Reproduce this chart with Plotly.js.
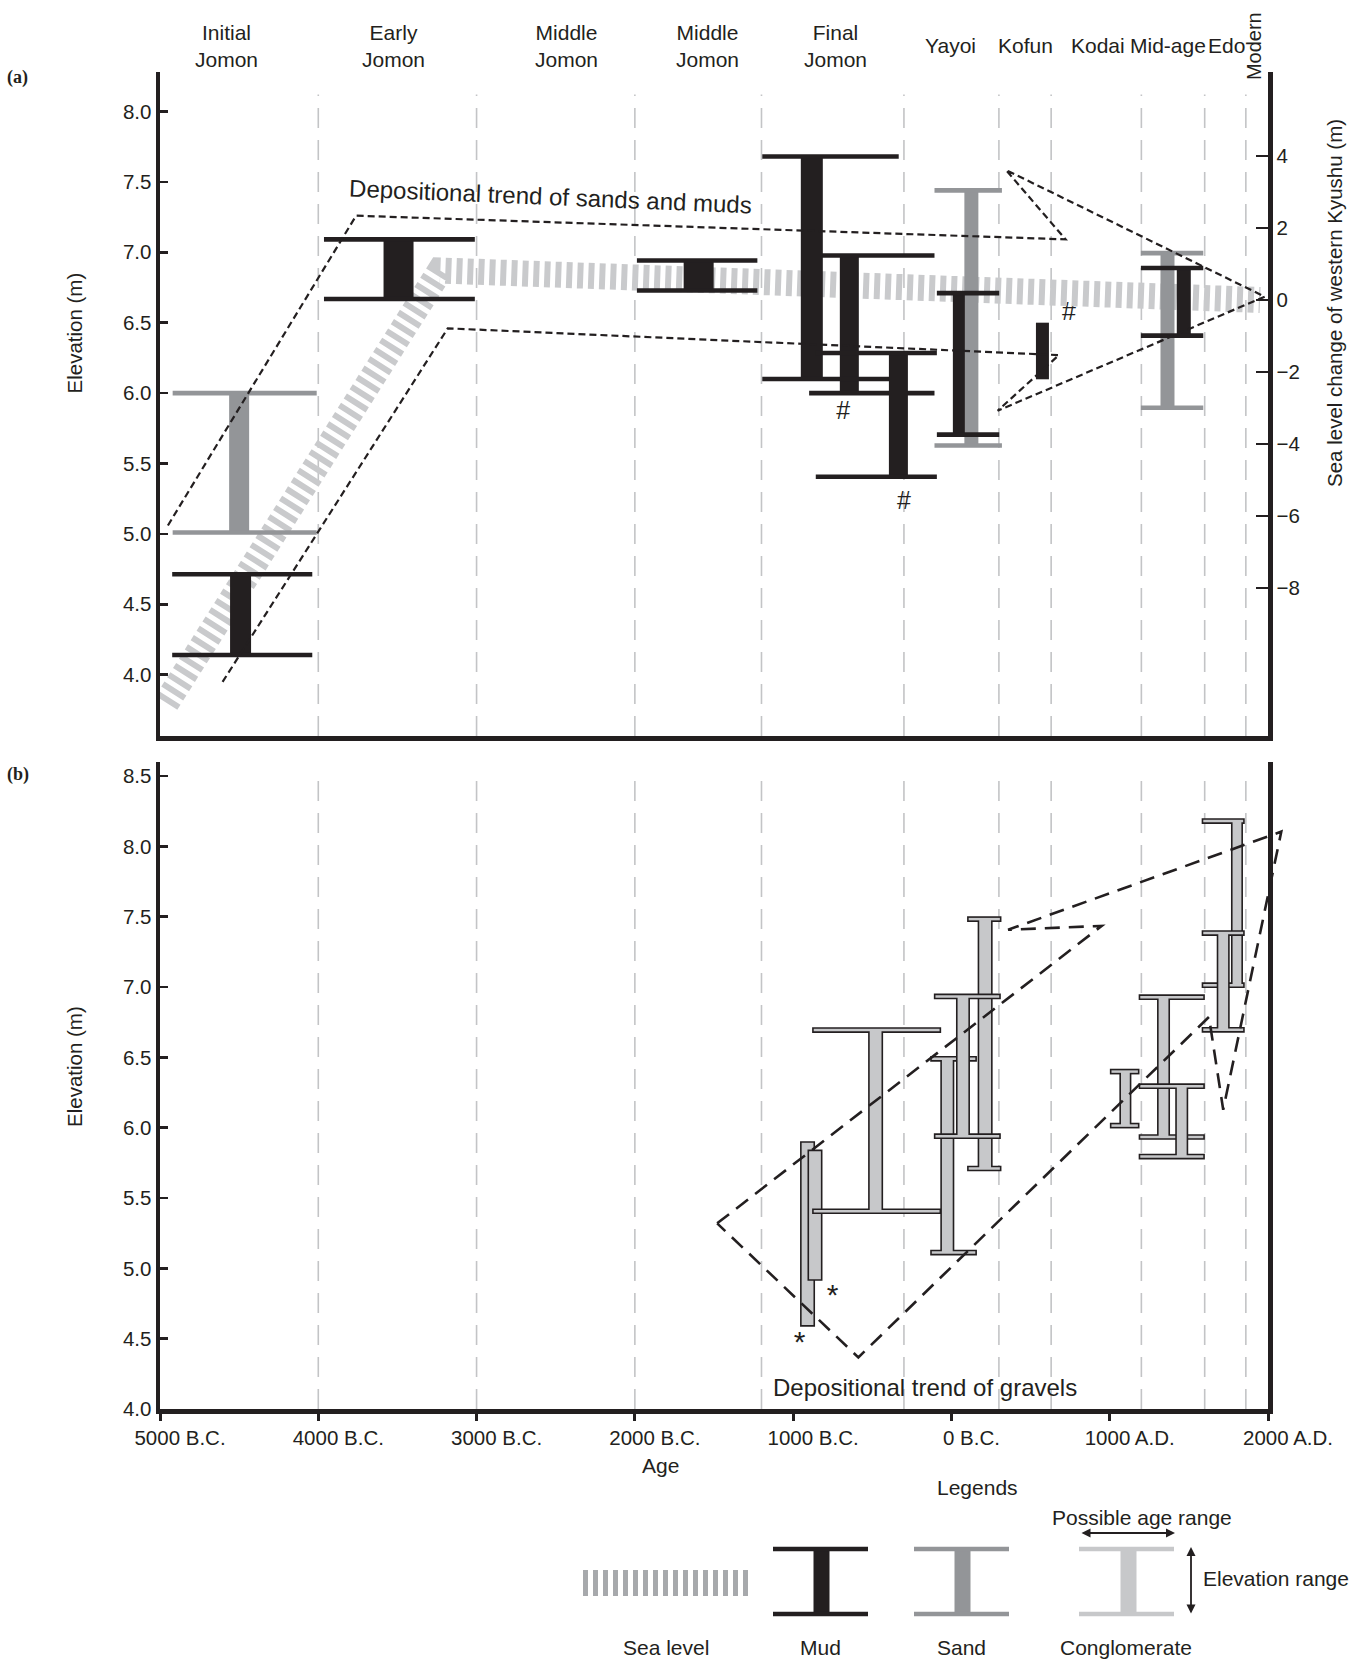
<!DOCTYPE html>
<html>
<head>
<meta charset="utf-8">
<script src="https://cdn.plot.ly/plotly-3.0.1.min.js"></script>
<style>html,body{margin:0;padding:0;background:#fff;}#chart{width:1360px;height:1660px;}</style>
</head>
<body>
<div id="chart"></div>
<script>
// ---------------- DATA ----------------
// X axis (age, years; negative = B.C.)
const xTickVals = [-5000, -4000, -3000, -2000, -1000, 0, 1000, 2000];
const xTickText = ['5000 B.C.', '4000 B.C.', '3000 B.C.', '2000 B.C.', '1000 B.C.', '0 B.C.', '1000 A.D.', '2000 A.D.'];
// Period boundaries (dashed vertical lines)
const periodBounds = [-4000, -3000, -2000, -1200, -300, 300, 630, 1200, 1600, 1860];
// Period names and their label centres (years)
const periodNames = ['Initial<br>Jomon', 'Early<br>Jomon', 'Middle<br>Jomon', 'Middle<br>Jomon', 'Final<br>Jomon', 'Yayoi', 'Kofun', 'Kodai', 'Mid-age', 'Edo', 'Modern'];
const periodCenters = [-4579, -3522, -2434, -1543, -730, -6, 465, 925, 1371, 1736, 1912];

// Panel (a): sands and muds (elevation, m)
const aKind = ['sand', 'sand', 'sand', 'mud', 'mud', 'mud', 'mud', 'mud', 'mud', 'mud', 'mud', 'mud'];
const aAgeCenter = [-4500, 126, 1365, -4491, -3493, -1597, -645, -882, -335, 47, 575, 1468];
const aAgeMin = [-4920, -107, 1197, -4923, -3964, -1987, -899, -1195, -857, -92, null, 1197];
const aAgeMax = [-4010, 319, 1591, -4038, -3011, -1226, -107, -333, -92, 302, null, 1591];
const aElevMin = [5.01, 5.628, 5.896, 4.14, 6.668, 6.729, 6.00, 6.10, 5.406, 5.705, 6.098, 6.408];
const aElevMax = [6.00, 7.44, 6.994, 4.713, 7.092, 6.942, 6.977, 7.68, 6.285, 6.71, 6.50, 6.888];

// Panel (a): sea level change of western Kyushu (m, right axis)
const seaYear = [-4960, -3230, 1950];
const seaLevel = [-11.19, 0.82, 0.0];

// Panel (a): depositional trend of sands and muds (outline)
const trendAYear = [-4950, -3761, 721, 344, 1979, 292, 679, -3182, -4608];
const trendAElev = [5.06, 7.26, 7.092, 7.585, 6.685, 5.875, 6.27, 6.46, 3.943];

// Panel (b): conglomerates (elevation, m)
const bAgeCenter = [-909, -862, -479, -26, 213, 73, 1099, 1340, 1455, 1804, 1717];
const bAgeMin = [null, null, -870, -124, 109, -101, 1011, 1193, 1193, 1591, 1591];
const bAgeMax = [null, null, -75, 151, 306, 302, 1178, 1591, 1591, 1843, 1843];
const bElevMin = [4.597, 4.923, 5.406, 5.112, 5.71, 5.94, 6.015, 5.934, 5.795, 7.013, 6.696];
const bElevMax = [5.893, 5.833, 6.694, 6.49, 7.483, 6.933, 6.399, 6.928, 6.295, 8.18, 7.384];

// Panel (b): depositional trend of gravels (outline)
const trendBYear = [-1480, 949, 358, 2084, 1717, 1627, -588, -1480];
const trendBElev = [5.32, 7.435, 7.407, 8.105, 6.128, 6.787, 4.367, 5.32];

// Marks: '#' in panel (a), '*' in panel (b)
const hashYear = [-683, -300, 742];
const hashElev = [5.857, 5.22, 6.566];
const starYear = [-750, -960];
const starElev = [4.79, 4.46];

// ---------------- STYLE ----------------
const FONT = '"Liberation Sans", Arial, Helvetica, sans-serif';
const SERIF = '"Liberation Serif", "DejaVu Serif", serif';
const INK = '#231f20';
const MUD = '#231f20';
const SAND = '#939598';
const CONG = '#c7c8ca';
const SEA = '#c9cacc';
const GRID = '#c3c4c6';
const aBarPx = [20, 14, 14, 21, 30, 30, 19, 22, 19, 12, 13, 14];
const bBarPx = [15, 15, 15, 14, 15, 14, 12, 13, 13, 12, 13];
const CAP_A = 4.6;
const CAP_B = 2.5;
const OW = 1.6;

// page geometry (px)
const ML = 160, MR = 70, MT = 72, MB = 251, W = 1360, H = 1660;
const PW = W - ML - MR, PH = H - MT - MB;      // paper area
const AXW = 1108;                              // width of the -5000..2000 axes
const XDOM = AXW / PW;
const px2x = x => (x - ML) / PW;
const px2y = y => (H - MB - y) / PH;

const shapes = [];

// grid (period boundaries)
periodBounds.forEach(v => {
  shapes.push({type: 'line', layer: 'below', xref: 'x2', yref: 'y2 domain', x0: v, x1: v, y0: 0, y1: 0.966,
    line: {color: GRID, width: 1.6, dash: '20px,12px'}});
  shapes.push({type: 'line', layer: 'below', xref: 'x', yref: 'y domain', x0: v, x1: v, y0: 0, y1: 0.985,
    line: {color: GRID, width: 1.6, dash: '20px,12px'}});
});

function solidI(xr, yr, c, a0, a1, e0, e1, w, color) {
  shapes.push({type: 'rect', xref: xr, yref: yr, xsizemode: 'pixel', xanchor: c, x0: -w / 2, x1: w / 2,
    y0: e0, y1: e1, fillcolor: color, line: {width: 0}});
  if (a0 !== null) {
    [e0, e1].forEach(e => shapes.push({type: 'rect', xref: xr, yref: yr, ysizemode: 'pixel', yanchor: e,
      y0: -CAP_A / 2, y1: CAP_A / 2, x0: a0, x1: a1, fillcolor: color, line: {width: 0}}));
  }
}

function outlinedI(xr, yr, c, a0, a1, e0, e1, w) {
  const parts = [];
  const bw = w - 2 * OW;
  parts.push({type: 'rect', xref: xr, yref: yr, xsizemode: 'pixel', xanchor: c, x0: -bw / 2, x1: bw / 2, y0: e0, y1: e1});
  if (a0 !== null) {
    [e0, e1].forEach(e => parts.push({type: 'rect', xref: xr, yref: yr, ysizemode: 'pixel', yanchor: e,
      y0: -CAP_B / 2, y1: CAP_B / 2, x0: a0, x1: a1}));
  }
  parts.forEach(p => shapes.push(Object.assign({}, p, {fillcolor: INK, line: {color: INK, width: 2 * OW}})));
  parts.forEach(p => shapes.push(Object.assign({}, p, {fillcolor: CONG, line: {width: 0}})));
}

aKind.forEach((k, i) => {
  solidI('x2', 'y2', aAgeCenter[i], aAgeMin[i], aAgeMax[i], aElevMin[i], aElevMax[i], aBarPx[i], k === 'sand' ? SAND : MUD);
});

bAgeCenter.forEach((c, i) => {
  outlinedI('x', 'y', c, bAgeMin[i], bAgeMax[i], bElevMin[i], bElevMax[i], bBarPx[i]);
});

function pathOf(xs, ys) {
  return xs.map((x, i) => (i === 0 ? 'M' : 'L') + x + ',' + ys[i]).join(' ');
}
shapes.push({type: 'path', xref: 'x2', yref: 'y2', path: pathOf(trendAYear, trendAElev),
  line: {color: INK, width: 2.2, dash: '7px,4px'}, fillcolor: 'rgba(0,0,0,0)'});
// drawn on a wider twin of the age axis so the apex may pass the right frame, as in the original
shapes.push({type: 'path', xref: 'x4', yref: 'y', path: pathOf(trendBYear, trendBElev),
  line: {color: INK, width: 2.6, dash: '15px,9px'}, fillcolor: 'rgba(0,0,0,0)'});

// ---------- legend (paper coordinates below the plot) ----------
function legendI(xc, xl, xr, color) {
  const yt = px2y(1549), yb = px2y(1614), bw = 16 / PW, ch = 4.5 / PH;
  const xcp = px2x(xc);
  shapes.push({type: 'rect', xref: 'paper', yref: 'paper', x0: xcp - bw / 2, x1: xcp + bw / 2, y0: yb, y1: yt, fillcolor: color, line: {width: 0}});
  shapes.push({type: 'rect', xref: 'paper', yref: 'paper', x0: px2x(xl), x1: px2x(xr), y0: yt - ch / 2, y1: yt + ch / 2, fillcolor: color, line: {width: 0}});
  shapes.push({type: 'rect', xref: 'paper', yref: 'paper', x0: px2x(xl), x1: px2x(xr), y0: yb - ch / 2, y1: yb + ch / 2, fillcolor: color, line: {width: 0}});
}
shapes.push({type: 'line', xref: 'paper', yref: 'paper', x0: px2x(583), x1: px2x(753), y0: px2y(1583), y1: px2y(1583),
  line: {color: '#a7a9ac', width: 26, dash: '5px,5px'}});
legendI(821.5, 773, 868, MUD);
legendI(962.5, 914, 1009, SAND);
legendI(1128.5, 1079, 1174, CONG);

// ---------------- TRACES ----------------
const traces = [
  {type: 'scatter', mode: 'lines', x: seaYear, y: seaLevel, xaxis: 'x2', yaxis: 'y3',
   line: {color: SEA, width: 26, dash: '6px,5px'}, hoverinfo: 'skip', name: 'Sea level'},
  {type: 'scatter', mode: 'text', x: hashYear, y: hashElev, xaxis: 'x2', yaxis: 'y2', text: hashYear.map(() => '#'),
   textfont: {family: FONT, size: 25, color: INK}, cliponaxis: false, hoverinfo: 'skip'},
  {type: 'scatter', mode: 'text', x: starYear, y: starElev, xaxis: 'x', yaxis: 'y', text: starYear.map(() => '*'),
   textfont: {family: FONT, size: 30, color: INK}, cliponaxis: false, hoverinfo: 'skip'},
  {type: 'scatter', mode: 'lines', x: [], y: [], xaxis: 'x4', yaxis: 'y', hoverinfo: 'skip'}
];

// ---------------- ANNOTATIONS ----------------
const ann = [];
const base = {showarrow: false, xanchor: 'center', yanchor: 'middle'};
periodNames.forEach((n, i) => {
  ann.push(Object.assign({}, base, {xref: 'x2', yref: 'paper', x: periodCenters[i], y: px2y(46), text: n,
    textangle: n === 'Modern' ? -90 : 0, font: {family: FONT, size: n === 'Modern' ? 20 : 21, color: INK}}));
});
const txt = (t, x, y, extra) => Object.assign({}, base, {xref: 'paper', yref: 'paper', x: px2x(x), y: px2y(y), text: t,
  font: {family: FONT, size: 21, color: INK}}, extra || {});
ann.push(txt('<b>(a)</b>', 5, 78, {xanchor: 'left', font: {family: SERIF, size: 18, color: INK}}));
ann.push(txt('<b>(b)</b>', 5, 774, {xanchor: 'left', font: {family: SERIF, size: 18, color: INK}}));
ann.push(txt('Elevation (m)', 74, 333.5, {textangle: -90, font: {family: FONT, size: 20.5, color: INK}}));
ann.push(txt('Elevation (m)', 74, 1067, {textangle: -90, font: {family: FONT, size: 20.5, color: INK}}));
ann.push(txt('Sea level change of western Kyushu (m)', 1334, 303, {textangle: -90, font: {family: FONT, size: 20.5, color: INK}}));
ann.push(txt('Age', 660, 1465));
ann.push(Object.assign({}, base, {xref: 'x2', yref: 'y2', x: -2531, y: 7.396, text: 'Depositional trend of sands and muds',
  textangle: 2.4, font: {family: FONT, size: 24, color: INK}}));
ann.push(Object.assign({}, base, {xref: 'x', yref: 'y', x: -170, y: 4.15, text: 'Depositional trend of gravels',
  font: {family: FONT, size: 24, color: INK}}));
// legend texts
ann.push(txt('Legends', 977, 1487));
ann.push(txt('Possible age range', 1142, 1517));
ann.push(txt('Elevation range', 1201, 1578, {xanchor: 'left'}));
ann.push(txt('Sea level', 666, 1647));
ann.push(txt('Mud', 820, 1647));
ann.push(txt('Sand', 961, 1647));
ann.push(txt('Conglomerate', 1126, 1647));
// arrows
ann.push({xref: 'paper', yref: 'paper', x: px2x(1175), y: px2y(1533), ax: -95, ay: 0, text: '',
  showarrow: true, arrowside: 'end+start', arrowhead: 2, arrowsize: 1, arrowwidth: 1.8, arrowcolor: INK});
ann.push({xref: 'paper', yref: 'paper', x: px2x(1191), y: px2y(1547), ax: 0, ay: 68, text: '',
  showarrow: true, arrowside: 'end+start', arrowhead: 2, arrowsize: 1, arrowwidth: 1.8, arrowcolor: INK});

// ---------------- LAYOUT ----------------
const axBase = {showgrid: false, zeroline: false, showline: true, linewidth: 4.5, linecolor: INK,
  tickcolor: INK, tickfont: {family: FONT, size: 20.5, color: INK}};
const bDom = [0, px2y(762)];
const aDom = [px2y(736), 1];
const layout = {
  width: W, height: H,
  margin: {l: ML, r: MR, t: MT, b: MB},
  paper_bgcolor: '#ffffff', plot_bgcolor: 'rgba(0,0,0,0)',
  showlegend: false,
  font: {family: FONT, size: 21, color: INK},
  xaxis: Object.assign({}, axBase, {domain: [0, XDOM], anchor: 'y', range: [-5000, 2000], ticks: 'outside', ticklen: 7, tickwidth: 3,
    tickvals: xTickVals, ticktext: xTickText, ticklabelshift: 20}),
  xaxis3: {overlaying: 'x', anchor: 'y', range: [-5000, 2000], showgrid: false, zeroline: false, showline: false,
    ticks: 'inside', ticklen: 7, tickwidth: 3, tickcolor: INK, tickvals: xTickVals, showticklabels: false},
  xaxis4: {domain: [0, 1], anchor: 'y', range: [-5000, -5000 + 7000 / XDOM], visible: false, fixedrange: true},
  xaxis2: Object.assign({}, axBase, {domain: [0, XDOM], anchor: 'y2', range: [-5000, 2000], ticks: '', showticklabels: false}),
  yaxis: Object.assign({}, axBase, {domain: bDom, anchor: 'x', range: [4.0, 8.6], mirror: true, ticks: 'inside',
    ticklen: 8, tickwidth: 2.5, tick0: 4, dtick: 0.5, tickformat: '.1f'}),
  yaxis2: Object.assign({}, axBase, {domain: aDom, anchor: 'x2', range: [3.5646, 8.2805], ticks: 'inside',
    ticklen: 8, tickwidth: 2.5, tick0: 4, dtick: 0.5, tickformat: '.1f'}),
  yaxis3: Object.assign({}, axBase, {overlaying: 'y2', anchor: 'x2', side: 'right', range: [-12.111, 6.3333], ticks: 'inside',
    ticklen: 12, tickwidth: 2.5, tickvals: [-8, -6, -4, -2, 0, 2, 4]}),
  shapes: shapes,
  annotations: ann
};

Plotly.newPlot('chart', traces, layout, {staticPlot: true, displayModeBar: false});
</script>
</body>
</html>
